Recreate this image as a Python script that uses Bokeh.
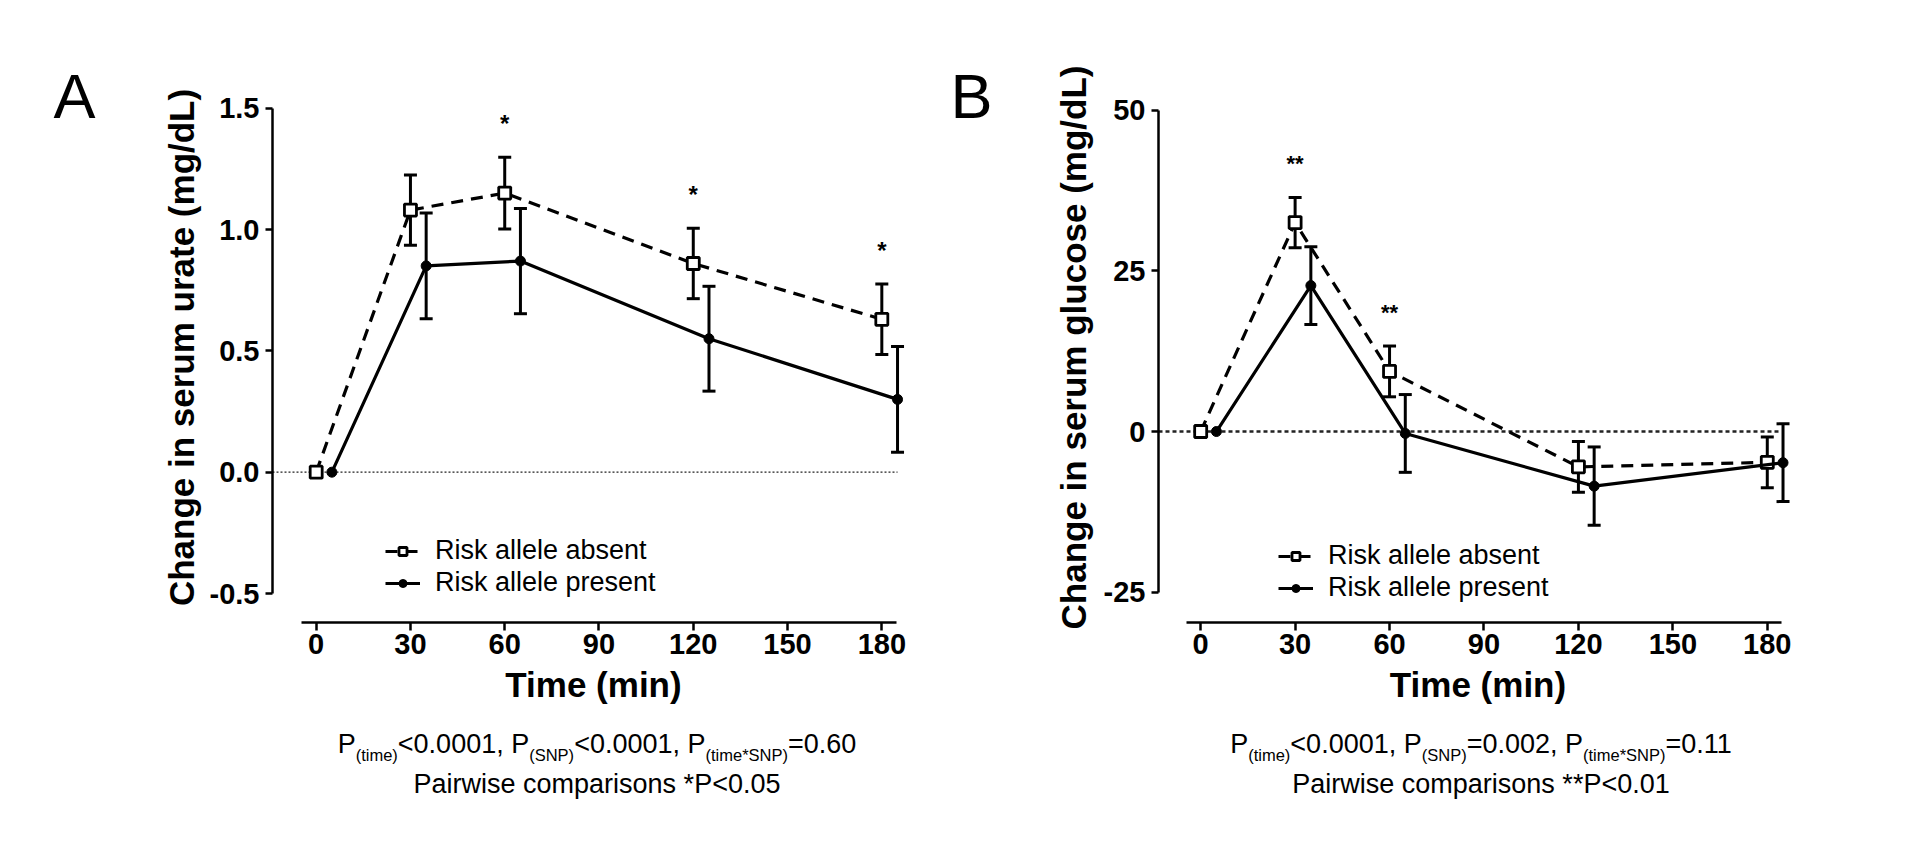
from bokeh.plotting import figure
from bokeh.models import (Range1d, FixedTicker, Whisker, TeeHead, ColumnDataSource,
                          Legend, LegendItem, Div)
from bokeh.layouts import row, column
from bokeh.core.properties import value
from bokeh.embed import file_html
from bokeh.resources import INLINE

# ---------------- data ----------------
TIME = [0, 30, 60, 120, 180]
X_TICKS = [0, 30, 60, 90, 120, 150, 180]
X_TICK_LABELS = ["0", "30", "60", "90", "120", "150", "180"]

# Panel A: serum urate (mg/dL)
URATE_ABSENT_MEAN = [0.0, 1.08, 1.15, 0.86, 0.63]
URATE_ABSENT_SEM = [0.0, 0.145, 0.148, 0.145, 0.145]
URATE_PRESENT_MEAN = [0.0, 0.85, 0.87, 0.55, 0.30]
URATE_PRESENT_SEM = [0.0, 0.218, 0.217, 0.216, 0.218]
URATE_SIG_TIMES = [60, 120, 180]
URATE_SIG_MARK = ["*", "*", "*"]
URATE_Y_TICKS = [-0.5, 0.0, 0.5, 1.0, 1.5]
URATE_Y_TICK_LABELS = ["-0.5", "0.0", "0.5", "1.0", "1.5"]

# Panel B: serum glucose (mg/dL)
GLU_ABSENT_MEAN = [0.0, 32.5, 9.35, -5.5, -4.8]
GLU_ABSENT_SEM = [0.0, 3.9, 3.95, 3.95, 3.95]
GLU_PRESENT_MEAN = [0.0, 22.7, -0.3, -8.5, -4.85]
GLU_PRESENT_SEM = [0.0, 6.05, 6.05, 6.1, 6.05]
GLU_SIG_TIMES = [30, 60]
GLU_SIG_MARK = ["**", "**"]
GLU_Y_TICKS = [-25, 0, 25, 50]
GLU_Y_TICK_LABELS = ["-25", "0", "25", "50"]

LEGEND_LABELS = ["Risk allele absent", "Risk allele present"]

# ---------------- style ----------------
FONT = "Liberation Sans"
DODGE = 5  # horizontal offset of the "present" group, in minutes
BLACK = "#000000"
FRAME_TOP = 72


def make_panel(letter, ylabel, a_mean, a_sem, p_mean, p_sem, sig_t, sig_m,
               yticks, yticklabels, cfg):
    p = figure(width=cfg["width"], height=726,
               x_range=Range1d(*cfg["xr"]), y_range=Range1d(*cfg["yr"]),
               output_backend="svg", toolbar_location=None,
               min_border_left=cfg["bl"], min_border_right=cfg["br"],
               min_border_top=FRAME_TOP, min_border_bottom=104)
    p.outline_line_color = None
    p.xgrid.visible = False
    p.ygrid.visible = False
    p.background_fill_color = "white"
    p.border_fill_color = "white"

    # panel letter as the plot title, pulled down beside the axis title
    p.title.text = letter
    p.title.text_font = FONT
    p.title.text_font_size = "63px"
    p.title.text_font_style = "normal"
    p.title.text_color = BLACK
    p.title.align = "left"
    p.title.vertical_align = "bottom"
    p.title.offset = cfg["letter_dx"]
    p.title.standoff = cfg["letter_standoff"]

    # zero reference line
    p.line([cfg["xr"][0], cfg["zero_end"]], [0, 0], line_color="#222222",
           line_width=cfg["zero_w"], line_dash=cfg["zero_dash"])

    t_abs = list(TIME)
    t_pre = [t + DODGE for t in TIME]

    src_a = ColumnDataSource(dict(x=t_abs, y=a_mean))
    src_p = ColumnDataSource(dict(x=t_pre, y=p_mean))

    # error bars (skip zero-width ones)
    for xs, m, s in ((t_abs, a_mean, a_sem), (t_pre, p_mean, p_sem)):
        keep = [i for i in range(len(xs)) if s[i] > 0]
        ws = ColumnDataSource(dict(x=[xs[i] for i in keep],
                                   up=[m[i] + s[i] for i in keep],
                                   lo=[m[i] - s[i] for i in keep]))
        w = Whisker(source=ws, base="x", upper="up", lower="lo",
                    line_width=3, line_color=BLACK, level="underlay",
                    upper_head=TeeHead(size=13, line_width=3, line_color=BLACK),
                    lower_head=TeeHead(size=13, line_width=3, line_color=BLACK))
        p.add_layout(w)

    la = p.line("x", "y", source=src_a, line_width=3.2, line_color=BLACK,
                line_dash="12 8")
    sa = p.scatter("x", "y", source=src_a, marker="square", size=12,
                   fill_color="white", line_color=BLACK, line_width=2.8)
    lp = p.line("x", "y", source=src_p, line_width=3.2, line_color=BLACK)
    sp = p.scatter("x", "y", source=src_p, marker="circle", size=10,
                   fill_color=BLACK, line_color=BLACK)

    # significance marks above the "absent" error bars
    sig_y = [a_mean[TIME.index(t)] + a_sem[TIME.index(t)] for t in sig_t]
    ssrc = ColumnDataSource(dict(x=sig_t, y=sig_y, t=sig_m))
    p.text("x", "y", text="t", source=ssrc, text_font=value(FONT),
           text_font_size=cfg["star_size"], text_font_style="bold",
           text_align="center", text_baseline="middle", y_offset=-34,
           text_color=BLACK)

    # axes
    p.xaxis.ticker = FixedTicker(ticks=X_TICKS)
    p.xaxis.major_label_overrides = {t: l for t, l in zip(X_TICKS, X_TICK_LABELS)}
    p.yaxis.ticker = FixedTicker(ticks=yticks)
    p.yaxis.major_label_overrides = {t: l for t, l in zip(yticks, yticklabels)}
    p.xaxis.bounds = cfg["xb"]
    p.yaxis.bounds = (yticks[0], yticks[-1])
    for ax in (p.xaxis[0], p.yaxis[0]):
        ax.axis_line_width = 2.5
        ax.axis_line_color = BLACK
        ax.major_tick_line_width = 2.5
        ax.major_tick_line_color = BLACK
        ax.major_tick_in = 0
        ax.minor_tick_line_color = None
        ax.major_label_text_font = FONT
        ax.major_label_text_font_size = "29px"
        ax.major_label_text_font_style = "bold"
        ax.major_label_text_color = BLACK
        ax.axis_label_text_font = FONT
        ax.axis_label_text_font_style = "bold"
        ax.axis_label_text_font_size = "35px"
        ax.axis_label_text_color = BLACK
    p.xaxis.major_tick_out = 8
    p.yaxis.major_tick_out = 7
    p.xaxis.major_label_standoff = 3
    p.yaxis.major_label_standoff = 6
    p.xaxis.axis_label = "Time (min)"
    p.yaxis.axis_label = ylabel
    p.xaxis.axis_label_standoff = 8
    p.yaxis.axis_label_standoff = cfg["ylab_standoff"]

    # legend
    leg = Legend(items=[LegendItem(label=LEGEND_LABELS[0], renderers=[la, sa]),
                        LegendItem(label=LEGEND_LABELS[1], renderers=[lp, sp])],
                 location=cfg["leg_loc"], glyph_width=35, glyph_height=20,
                 label_standoff=15, spacing=1, padding=0, margin=0,
                 border_line_color=None, background_fill_alpha=0,
                 label_text_font=FONT, label_text_font_size="27px",
                 label_text_color=BLACK)
    p.add_layout(leg)
    return p


# panel A: canvas 0..944, frame 272..914 ; panel B: canvas 944..1913, frame 1158..1797
cfg_a = dict(width=944, xr=(-13.9, 190.4), yr=(-0.6194, 1.647), bl=272, br=30,
             xb=(-4.8, 184.6), zero_end=185, zero_w=1.2, zero_dash="2 2",
             star_size="24px", ylab_standoff=6, leg_loc=(113, 24),
             letter_dx=-219, letter_standoff=-117)
cfg_b = dict(width=969, xr=(-13.4, 189.6), yr=(-29.71, 55.85), bl=214, br=116,
             xb=(-4.4, 184.4), zero_end=184.5, zero_w=2.5, zero_dash="4 3",
             star_size="22px", ylab_standoff=8, leg_loc=(120, 19),
             letter_dx=-208, letter_standoff=-117)

pa = make_panel("A", "Change in serum urate (mg/dL)", URATE_ABSENT_MEAN,
                URATE_ABSENT_SEM, URATE_PRESENT_MEAN, URATE_PRESENT_SEM,
                URATE_SIG_TIMES, URATE_SIG_MARK, URATE_Y_TICKS,
                URATE_Y_TICK_LABELS, cfg_a)
pb = make_panel("B", "Change in serum glucose (mg/dL)", GLU_ABSENT_MEAN,
                GLU_ABSENT_SEM, GLU_PRESENT_MEAN, GLU_PRESENT_SEM,
                GLU_SIG_TIMES, GLU_SIG_MARK, GLU_Y_TICKS, GLU_Y_TICK_LABELS,
                cfg_b)


def sub(s):
    return ('<span style="font-size:16.5px;position:relative;top:8px;">%s</span>' % s)


def stats_div(width, left, stats, pair):
    html = ('<div style="margin-left:%dpx;width:600px;text-align:center;'
            'font-family:\'Liberation Sans\',Arial,sans-serif;font-size:27px;'
            'line-height:36.7px;color:#000;white-space:nowrap;">%s<br>%s</div>'
            % (left, stats, pair))
    return Div(text=html, width=width, height=80, margin=(0, 0, 0, 0))


stats_a = ("P" + sub("(time)") + "&lt;0.0001, P" + sub("(SNP)") + "&lt;0.0001, P"
           + sub("(time*SNP)") + "=0.60")
stats_b = ("P" + sub("(time)") + "&lt;0.0001, P" + sub("(SNP)") + "=0.002, P"
           + sub("(time*SNP)") + "=0.11")
da = stats_div(944, 297, stats_a, "Pairwise comparisons *P&lt;0.05")
db = stats_div(969, 237, stats_b, "Pairwise comparisons **P&lt;0.01")

layout = column(row(pa, pb, spacing=0), row(da, db, spacing=0), spacing=0)
open("out.html", "w").write(file_html(layout, INLINE))
